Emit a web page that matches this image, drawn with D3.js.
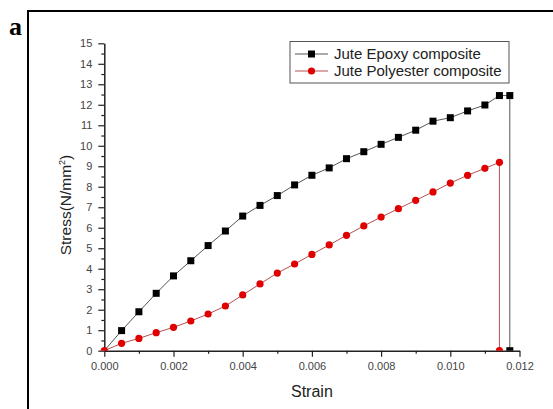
<!DOCTYPE html>
<html>
<head>
<meta charset="utf-8">
<script src="https://cdn.jsdelivr.net/npm/d3@7"></script>
<style>
  body { margin: 0; background: #fff; }
  text { font-family: Arial, "Liberation Sans", sans-serif; }
</style>
</head>
<body>
<svg id="chart" width="553" height="409"></svg>
<script>
// data
var epoxyStrain = [0, 0.0005, 0.001, 0.0015, 0.002, 0.0025, 0.003, 0.0035, 0.004, 0.0045,
                   0.005, 0.0055, 0.006, 0.0065, 0.007, 0.0075, 0.008, 0.0085, 0.009, 0.0095,
                   0.010, 0.0105, 0.011, 0.01142, 0.01172, 0.01172];
var epoxyStress = [0, 0.98, 1.90, 2.80, 3.65, 4.39, 5.13, 5.84, 6.57, 7.09,
                   7.57, 8.09, 8.56, 8.92, 9.37, 9.71, 10.07, 10.41, 10.76, 11.20,
                   11.37, 11.70, 11.99, 12.45, 12.45, 0];

var polyStrain = [0, 0.0005, 0.001, 0.0015, 0.002, 0.0025, 0.003, 0.0035, 0.004, 0.0045,
                  0.005, 0.0055, 0.006, 0.0065, 0.007, 0.0075, 0.008, 0.0085, 0.009, 0.0095,
                  0.010, 0.0105, 0.011, 0.01142, 0.01142];
var polyStress = [0, 0.36, 0.60, 0.88, 1.14, 1.45, 1.79, 2.18, 2.72, 3.26,
                  3.79, 4.23, 4.70, 5.16, 5.63, 6.09, 6.52, 6.93, 7.34, 7.75,
                  8.18, 8.56, 8.90, 9.19, 0];

var seriesNames = ["Jute Epoxy composite", "Jute Polyester composite"];
var xTicks = [0, 0.002, 0.004, 0.006, 0.008, 0.010, 0.012];
var yTicks = [0, 1, 2, 3, 4, 5, 6, 7, 8, 9, 10, 11, 12, 13, 14, 15];

var svg = d3.select("svg#chart");

// panel frame + label
svg.append("rect")
   .attr("x", 28).attr("y", 11)
   .attr("width", 540).attr("height", 420)
   .attr("fill", "none").attr("stroke", "#000").attr("stroke-width", 2);
svg.append("text")
   .attr("x", 9).attr("y", 35)
   .style("font-family", "'Liberation Serif', 'DejaVu Serif', serif")
   .style("font-weight", "bold").style("font-size", "26px")
   .text("a");

var x = d3.scaleLinear().domain([0, 0.012]).range([104.3, 519.5]);
var y = d3.scaleLinear().domain([0, 15]).range([350.7, 43.3]);

svg.append("clipPath").attr("id", "plotclip")
   .append("rect")
   .attr("x", 95).attr("y", 30)
   .attr("width", 440).attr("height", 350.7 - 30);

// axes
svg.append("g")
   .attr("transform", "translate(0," + y(0) + ")")
   .call(d3.axisBottom(x).tickValues(xTicks).tickFormat(d3.format(".3f"))
         .tickSize(6).tickSizeOuter(0).tickPadding(6));
svg.append("g")
   .attr("transform", "translate(0," + y(0) + ")")
   .call(d3.axisBottom(x).tickValues([0.001, 0.003, 0.005, 0.007, 0.009, 0.011])
         .tickFormat("").tickSize(3).tickSizeOuter(0))
   .select(".domain").remove();

svg.append("g")
   .attr("transform", "translate(" + x(0) + ",0)")
   .call(d3.axisLeft(y).tickValues(yTicks).tickSize(6).tickSizeOuter(0).tickPadding(6));
svg.append("g")
   .attr("transform", "translate(" + x(0) + ",0)")
   .call(d3.axisLeft(y).tickValues([0.5, 1.5, 2.5, 3.5, 4.5, 5.5, 6.5, 7.5, 8.5, 9.5, 10.5, 11.5, 12.5, 13.5, 14.5])
         .tickFormat("").tickSize(3).tickSizeOuter(0))
   .select(".domain").remove();

svg.selectAll(".domain").attr("stroke", "#222").attr("stroke-width", 1.5);
svg.selectAll(".tick line").attr("stroke", "#222").attr("stroke-width", 1.2);
svg.selectAll(".tick text").attr("fill", "#444").style("font-size", "11px");

// axis titles
svg.append("text")
   .attr("x", (x(0) + x(0.012)) / 2).attr("y", 397)
   .attr("text-anchor", "middle")
   .style("font-size", "16px").attr("fill", "#222")
   .text("Strain");
var yl = svg.append("text")
   .attr("transform", "translate(71,205) rotate(-90)")
   .attr("text-anchor", "middle")
   .style("font-size", "15.5px").attr("fill", "#222");
yl.append("tspan").text("Stress(N/mm");
yl.append("tspan").attr("dy", -6).style("font-size", "9px").text("2");
yl.append("tspan").attr("dy", 6).text(")");

// series
var epoxy = epoxyStrain.map(function(d, i) { return [d, epoxyStress[i]]; });
var poly = polyStrain.map(function(d, i) { return [d, polyStress[i]]; });

var line = d3.line()
   .x(function(d) { return x(d[0]); })
   .y(function(d) { return y(d[1]); });

var plot = svg.append("g").attr("clip-path", "url(#plotclip)");

plot.append("path").datum(poly)
   .attr("d", line).attr("fill", "none")
   .attr("stroke", "#b55050").attr("stroke-width", 1);
plot.append("path").datum(epoxy)
   .attr("d", line).attr("fill", "none")
   .attr("stroke", "#555").attr("stroke-width", 1);

plot.selectAll("circle.poly")
   .data(poly)
   .enter().append("circle")
   .attr("class", "poly")
   .attr("cx", function(d) { return x(d[0]); })
   .attr("cy", function(d) { return y(d[1]); })
   .attr("r", 3.6)
   .attr("fill", "#e00000");

plot.selectAll("rect.epoxy")
   .data(epoxy.slice(1))
   .enter().append("rect")
   .attr("class", "epoxy")
   .attr("x", function(d) { return x(d[0]) - 3.5; })
   .attr("y", function(d) { return y(d[1]) - 3.5; })
   .attr("width", 7).attr("height", 7)
   .attr("fill", "#000");

// legend
var lg = svg.append("g");
lg.append("rect")
   .attr("x", 290).attr("y", 41.5)
   .attr("width", 219).attr("height", 41.5)
   .attr("fill", "#fff").attr("stroke", "#555").attr("stroke-width", 1);

seriesNames.forEach(function(name, i) {
  var ly = 54 + i * 17;
  lg.append("line")
    .attr("x1", 295).attr("x2", 328).attr("y1", ly).attr("y2", ly)
    .attr("stroke", i === 0 ? "#555" : "#b55050").attr("stroke-width", 1);
  if (i === 0) {
    lg.append("rect").attr("x", 308).attr("y", ly - 3.5)
      .attr("width", 7).attr("height", 7).attr("fill", "#000");
  } else {
    lg.append("circle").attr("cx", 311.5).attr("cy", ly).attr("r", 3.6)
      .attr("fill", "#e00000");
  }
  lg.append("text")
    .attr("x", 334).attr("y", ly + 5)
    .style("font-size", "15px").attr("fill", "#222")
    .text(name);
});
</script>
</body>
</html>
